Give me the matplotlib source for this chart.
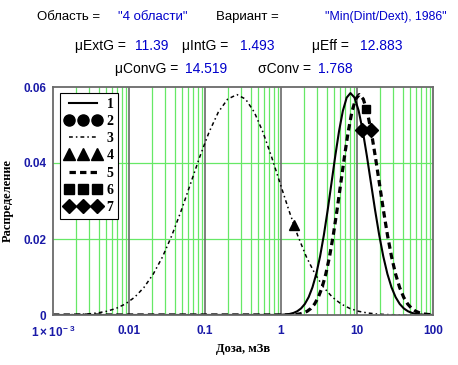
import numpy as np
import matplotlib
matplotlib.use('Agg')
import matplotlib.pyplot as plt
from matplotlib.lines import Line2D

plt.rcParams['mathtext.fontset'] = 'custom'
plt.rcParams['mathtext.bf'] = 'Liberation Sans:bold'
plt.rcParams['mathtext.rm'] = 'Liberation Sans'

# --- data (log10 of dose, density) ---
# 1: solid curve
log_dose_1 = [-3.0, -0.086, -0.036, 0.014, 0.064, 0.114, 0.164, 0.214, 0.264, 0.314, 0.364,
              0.414, 0.464, 0.514, 0.564, 0.614, 0.664, 0.714, 0.764, 0.814, 0.864, 0.914,
              0.968, 1.022, 1.076, 1.130, 1.184, 1.238, 1.292, 1.346, 1.400, 1.454, 1.508,
              1.562, 1.616, 1.670, 1.724, 1.778, 1.832, 1.886, 1.940, 1.994]
dens_1 = [0.0, 0.000014, 0.000032, 0.000068, 0.00014, 0.00028, 0.00054, 0.00099, 0.00173,
          0.00291, 0.00470, 0.00728, 0.01081, 0.01540, 0.02105, 0.02759, 0.03470, 0.04185,
          0.04842, 0.05374, 0.05720, 0.0584,
          0.05720, 0.05374, 0.04842, 0.04185, 0.03470, 0.02759, 0.02105, 0.01540, 0.01081,
          0.00728, 0.00470, 0.00291, 0.00173, 0.00099, 0.00054, 0.00028, 0.00014, 0.000068,
          0.000032, 0.000014]

# 3: dash-dot curve
log_dose_3 = [-3.0, -2.906, -2.783, -2.661, -2.538, -2.416, -2.294, -2.171, -2.049, -1.926,
              -1.804, -1.682, -1.559, -1.437, -1.314, -1.192, -1.070, -0.947, -0.825, -0.702,
              -0.58, -0.466, -0.351, -0.237, -0.123, -0.009, 0.106, 0.220, 0.334, 0.449,
              0.563, 0.677, 0.792, 0.906, 1.020, 1.135, 1.249, 1.363, 1.477, 1.592, 1.706, 2.0]
dens_3 = [0.00002, 0.000031, 0.000068, 0.00014, 0.00028, 0.00054, 0.00098, 0.00172, 0.00289,
          0.00467, 0.00723, 0.01074, 0.01529, 0.02090, 0.02741, 0.03446, 0.04156, 0.04809,
          0.05337, 0.05681, 0.058,
          0.05681, 0.05337, 0.04809, 0.04156, 0.03446, 0.02741, 0.02090, 0.01529, 0.01074,
          0.00723, 0.00467, 0.00289, 0.00172, 0.00098, 0.00054, 0.00028, 0.00014, 0.000068,
          0.000031, 0.000014, 0.0]

# 5: dashed curve
log_dose_5 = [-3.0, 0.05, 0.099, 0.148, 0.197, 0.246, 0.295, 0.344, 0.393, 0.442, 0.491,
              0.54, 0.589, 0.638, 0.687, 0.736, 0.785, 0.834, 0.883, 0.932, 0.981, 1.03,
              1.083, 1.136, 1.189, 1.242, 1.296, 1.349, 1.402, 1.455, 1.508, 1.561, 1.614,
              1.667, 1.720, 1.773, 1.827, 1.880, 1.933, 1.986]
dens_5 = [0.0, 0.000014, 0.000031, 0.000068, 0.00014, 0.00028, 0.00054, 0.00098, 0.00172,
          0.00289, 0.00467, 0.00723, 0.01074, 0.01529, 0.02090, 0.02741, 0.03446, 0.04156,
          0.04809, 0.05337, 0.05681, 0.058,
          0.05681, 0.05337, 0.04809, 0.04156, 0.03446, 0.02741, 0.02090, 0.01529, 0.01074,
          0.00723, 0.00467, 0.00289, 0.00172, 0.00098, 0.00054, 0.00028, 0.00014, 0.000068]

# single points
pt2_x, pt2_y = [11.5], [0.0487]
pt4_x, pt4_y = [1.50], [0.0237]
pt6_x, pt6_y = [13.0], [0.0542]
pt7_x, pt7_y = [11.5, 15.2], [0.0487, 0.0487]

x_ticks = [1e-3, 0.01, 0.1, 1, 10, 100]
x_labels = [r'$\mathbf{1\times10^{-\ 3}}$', '0.01', '0.1', '1', '10', '100']
y_ticks = [0, 0.02, 0.04, 0.06]
y_labels = ['0', '0.02', '0.04', '0.06']

BLUE = '#0000cc'
TICKBLUE = '#1a1aa8'
GREEN = '#66e866'

fig = plt.figure(figsize=(4.58, 3.65), dpi=100)
ax = fig.add_axes([53 / 458, 50 / 365, 380 / 458, 228 / 365])

ax.set_xscale('log')
ax.set_xlim(1e-3, 100)
ax.set_ylim(0, 0.06)

# grid
for dec in [1e-3, 1e-2, 1e-1, 1, 10]:
    for m in range(2, 10):
        ax.axvline(dec * m, color=GREEN, lw=0.9, zorder=0)
for dec in [1e-2, 1e-1, 1, 10]:
    ax.axvline(dec, color='#6a6a6a', lw=1.2, zorder=0.5)
for yv in [0.02, 0.04]:
    ax.axhline(yv, color=GREEN, lw=0.9, zorder=0)

ax.plot(10 ** np.array(log_dose_1), dens_1, color='black', lw=1.5)
ax.plot(10 ** np.array(log_dose_3), dens_3, color='black', lw=1.1,
        linestyle=(0, (2.5, 2, 1, 2)))
ax.plot(10 ** np.array(log_dose_5), dens_5, color='black', lw=2.3,
        linestyle=(0, (2, 1.3)))
ax.plot(pt2_x, pt2_y, 'o', color='black', ms=7, ls='none')
ax.plot(pt4_x, pt4_y, '^', color='black', ms=7, ls='none')
ax.plot(pt6_x, pt6_y, 's', color='black', ms=6, ls='none')
ax.plot(pt7_x, pt7_y, 'D', color='black', ms=7, ls='none')

for s in ax.spines.values():
    s.set_color('#6a6a6a')
    s.set_linewidth(1.3)

ax.set_xticks(x_ticks)
ax.set_xticklabels(x_labels)
ax.set_yticks(y_ticks)
ax.set_yticklabels(y_labels)
ax.minorticks_off()
ax.tick_params(length=0, labelsize=8.5, labelcolor=TICKBLUE)
ax.tick_params(axis='x', pad=7)
ax.tick_params(axis='y', pad=5)
for t in ax.get_xticklabels() + ax.get_yticklabels():
    t.set_fontfamily('Liberation Sans')
    t.set_fontweight('bold')

ax.set_xlabel('Доза, мЗв', fontfamily='Liberation Serif', fontweight='bold', fontsize=9,
              labelpad=2)
ax.set_ylabel('Распределение', fontfamily='Liberation Serif', fontweight='bold', fontsize=9,
              labelpad=7)

handles = [
    Line2D([], [], color='black', lw=1.5),
    Line2D([], [], color='black', marker='o', ms=8, ls='none'),
    Line2D([], [], color='black', lw=1.1, linestyle=(0, (2.5, 2, 1, 2))),
    Line2D([], [], color='black', marker='^', ms=8, ls='none'),
    Line2D([], [], color='black', lw=2.3, linestyle=(0, (2, 1.3))),
    Line2D([], [], color='black', marker='s', ms=7, ls='none'),
    Line2D([], [], color='black', marker='D', ms=7, ls='none'),
]
leg = ax.legend(handles, ['1', '2', '3', '4', '5', '6', '7'], loc='upper left',
                bbox_to_anchor=(7 / 380, 222 / 228), borderaxespad=0, numpoints=3,
                handlelength=2.6, handletextpad=0.4, labelspacing=0.3, borderpad=0.35,
                fancybox=False, framealpha=1, edgecolor='black',
                prop={'family': 'Liberation Serif', 'weight': 'bold', 'size': 10})
leg.get_frame().set_linewidth(0.8)


# header rows
def put(x, y, s, c, size):
    fig.text(x / 458, 1 - y / 365, s, color=c, fontsize=size, fontfamily='Liberation Sans',
             va='baseline', ha='left')


put(37, 20, 'Область = ', 'black', 9.5)
put(118, 20, '"4 области"', BLUE, 9.5)
put(216, 20, 'Вариант = ', 'black', 9.5)
put(325, 20, '"Min(Dint/Dext), 1986"', BLUE, 8.8)

put(75, 50, 'μExtG = ', 'black', 10)
put(135, 50, '11.39', BLUE, 10)
put(182, 50, 'μIntG = ', 'black', 10)
put(240, 50, '1.493', BLUE, 10)
put(312, 50, 'μEff = ', 'black', 10)
put(360, 50, '12.883', BLUE, 10)

put(115, 73, 'μConvG = ', 'black', 10)
put(185, 73, '14.519', BLUE, 10)
put(258, 73, 'σConv = ', 'black', 10)
put(318, 73, '1.768', BLUE, 10)

fig.savefig('out.png', dpi=100)
